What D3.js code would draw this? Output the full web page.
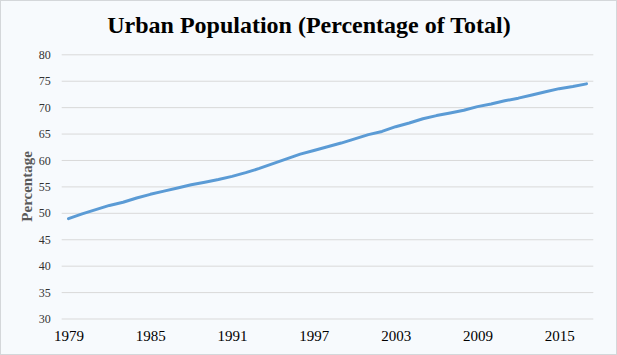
<!DOCTYPE html>
<html>
<head>
<meta charset="utf-8">
<script src="https://cdn.jsdelivr.net/npm/d3@7"></script>
<style>
html,body{margin:0;padding:0;background:#fff;}
svg{display:block;}
</style>
</head>
<body>
<svg id="chart" width="617" height="355"></svg>
<script>
const years = d3.range(1979, 2018);
const urbanPct = [
  48.9, 49.8, 50.6, 51.4, 52.0, 52.8, 53.5, 54.1, 54.7, 55.3,
  55.8, 56.3, 56.9, 57.6, 58.4, 59.3, 60.2, 61.1, 61.8, 62.5,
  63.2, 64.0, 64.8, 65.4, 66.3, 67.0, 67.8, 68.4, 68.9, 69.4,
  70.1, 70.6, 71.2, 71.7, 72.3, 72.9, 73.5, 73.9, 74.4
];
const xTickYears = [1979, 1985, 1991, 1997, 2003, 2009, 2015];
const yTicks = [30, 35, 40, 45, 50, 55, 60, 65, 70, 75, 80];
const titleText = "Urban Population (Percentage of Total)";
const yTitle = "Percentage";

const W = 617, H = 355;
const svg = d3.select("#chart");
const plot = {left: 61.7, right: 593.3, top: 54.3, bottom: 318.5};

svg.append("rect").attr("x", 0.5).attr("y", 0.5).attr("width", W - 1).attr("height", H - 1)
  .attr("fill", "#f7fafd").attr("stroke", "#d4d7da").attr("stroke-width", 1);

const x = d3.scalePoint().domain(years).range([plot.left, plot.right]).padding(0.5);
const y = d3.scaleLinear().domain([30, 80]).range([plot.bottom, plot.top]);

// gridlines
const yAxis = d3.axisLeft(y).tickValues(yTicks).tickSize(-(plot.right - plot.left)).tickPadding(11);
const gy = svg.append("g").attr("transform", `translate(${plot.left},0)`).call(yAxis);
gy.select(".domain").remove();
gy.selectAll(".tick line").attr("stroke", "#d9d9d9").attr("stroke-width", 1);
gy.selectAll(".tick text").attr("font-family", "'Liberation Serif', 'Times New Roman', serif")
  .attr("font-size", 12).attr("fill", "#333").attr("dy", "0.34em");

// x axis labels
const xAxis = d3.axisBottom(x).tickValues(xTickYears).tickSize(0).tickPadding(12);
const gx = svg.append("g").attr("transform", `translate(0,${plot.bottom})`).call(xAxis);
gx.select(".domain").remove();
gx.selectAll(".tick text").attr("font-family", "'Liberation Serif', 'Times New Roman', serif")
  .attr("font-size", 15).attr("fill", "#000");

// line
const line = d3.line().x((d, i) => x(years[i])).y(d => y(d));
svg.append("path").datum(urbanPct).attr("d", line)
  .attr("fill", "none").attr("stroke", "#5b9bd5").attr("stroke-width", 3)
  .attr("stroke-linejoin", "round").attr("stroke-linecap", "round");

// title
svg.append("text").attr("x", 309).attr("y", 33).attr("text-anchor", "middle")
  .attr("font-family", "'Liberation Serif', 'Times New Roman', serif")
  .attr("font-weight", "bold").attr("font-size", 24).attr("fill", "#000").text(titleText);

// y title
svg.append("text").attr("transform", `translate(32,${(plot.top + plot.bottom) / 2}) rotate(-90)`)
  .attr("text-anchor", "middle")
  .attr("font-family", "'Liberation Serif', 'Times New Roman', serif")
  .attr("font-weight", "bold").attr("font-size", 15).attr("fill", "#595959").text(yTitle);
</script>
</body>
</html>
